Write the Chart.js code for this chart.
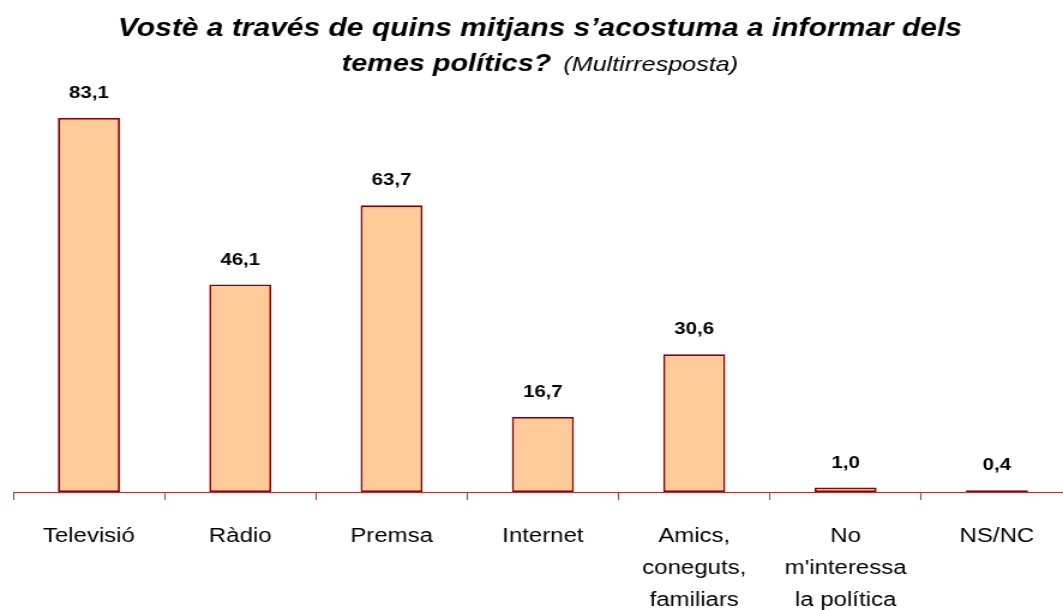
<!DOCTYPE html>
<html>
<head>
<meta charset="utf-8">
<script src="https://cdn.jsdelivr.net/npm/chart.js@4"></script>
<style>
  html, body { margin: 0; padding: 0; background: #fff; overflow: hidden; }
  #wrap { width: 1063px; height: 610px; overflow: hidden; }
</style>
</head>
<body>
<!-- the original picture is stretched sideways, so the canvas is drawn narrower and widened by its inline style -->
<div id="wrap"><canvas id="chart" width="896" height="610" style="width:1075px;height:610px;display:block"></canvas></div>
<script>
// Data
const categories = [
  ["Televisió"],
  ["Ràdio"],
  ["Premsa"],
  ["Internet"],
  ["Amics,", "coneguts,", "familiars"],
  ["No", "m'interessa", "la política"],
  ["NS/NC"],
];
const percentages = [83.1, 46.1, 63.7, 16.7, 30.6, 1.0, 0.4];

const titleMain = "Vostè a través de quins mitjans s\u2019acostuma a informar dels";
const titleSecond = "temes polítics?";
const titleNote = "(Multirresposta)";

const FONT = "'Liberation Sans', Arial, sans-serif";

// Title with mixed styles on the second line
const titlePlugin = {
  id: "mixedTitle",
  afterDraw(chart) {
    const ctx = chart.ctx;
    const cx = chart.width / 2 + 2;
    ctx.save();
    ctx.fillStyle = "#000";
    ctx.textBaseline = "alphabetic";
    ctx.textAlign = "center";
    ctx.font = "italic bold 25px " + FONT;
    ctx.fillText(titleMain, cx, 36);

    ctx.textAlign = "left";
    ctx.font = "italic bold 24px " + FONT;
    const w1 = ctx.measureText(titleSecond).width;
    ctx.font = "italic 21px " + FONT;
    const w2 = ctx.measureText(titleNote).width;
    const gap = 10;
    const start = cx - (w1 + gap + w2) / 2;
    ctx.font = "italic bold 24px " + FONT;
    ctx.fillText(titleSecond, start, 71);
    ctx.font = "italic 21px " + FONT;
    ctx.fillText(titleNote, start + w1 + gap, 71);
    ctx.restore();
  },
};

// Value labels above the bars, with a decimal comma
const valueLabels = {
  id: "valueLabels",
  afterDatasetsDraw(chart) {
    const ctx = chart.ctx;
    const meta = chart.getDatasetMeta(0);
    ctx.save();
    ctx.fillStyle = "#000";
    ctx.font = "bold 17px " + FONT;
    ctx.textAlign = "center";
    ctx.textBaseline = "alphabetic";
    meta.data.forEach((bar, i) => {
      const txt = percentages[i].toFixed(1).replace(".", ",");
      ctx.fillText(txt, bar.x, bar.y - 20);
    });
    ctx.restore();
  },
};

new Chart(document.getElementById("chart"), {
  type: "bar",
  data: {
    labels: categories,
    datasets: [
      {
        data: percentages,
        backgroundColor: "#FFCC99",
        borderColor: "#8B0000",
        borderWidth: 1.8,
        borderSkipped: false,
        categoryPercentage: 1,
        barPercentage: 0.41,
      },
    ],
  },
  options: {
    responsive: false,
    animation: false,
    devicePixelRatio: 1,
    layout: { padding: { left: 11, right: 2, top: 42, bottom: 0 } },
    plugins: {
      legend: { display: false },
      tooltip: { enabled: false },
      title: { display: false },
    },
    scales: {
      x: {
        offset: true,
        afterFit(scale) {
          scale.height = 118; // keeps the axis line where the original has it
        },
        border: { display: true, color: "#A33A3A", width: 1 },
        grid: {
          offset: true,
          drawOnChartArea: false,
          drawTicks: true,
          tickLength: 8,
          color: "#A33A3A",
        },
        ticks: {
          color: "#000",
          padding: 20,
          autoSkip: false,
          maxRotation: 0,
          font: { family: FONT, size: 20, lineHeight: 1.6 },
        },
      },
      y: {
        display: false,
        min: 0,
        max: 100,
      },
    },
  },
  plugins: [titlePlugin, valueLabels],
});
</script>
</body>
</html>
